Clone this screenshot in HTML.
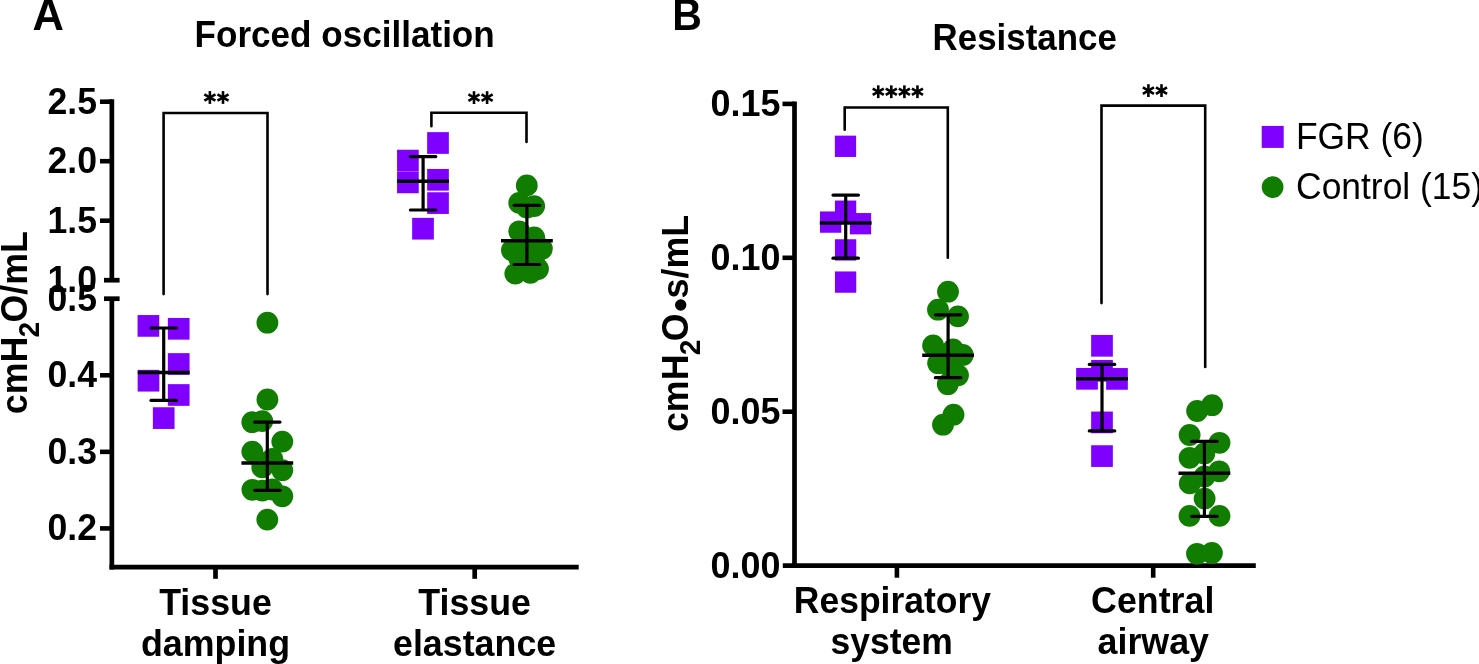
<!DOCTYPE html>
<html><head><meta charset="utf-8"><style>
html,body{margin:0;padding:0;background:#fff;width:1479px;height:664px;overflow:hidden}
svg{display:block;will-change:transform}
text{font-family:"Liberation Sans", sans-serif;fill:#000}
</style></head><body>
<svg width="1479" height="664" viewBox="0 0 1479 664">
<rect width="1479" height="664" fill="#fff"/>
<text transform="translate(32.61,29.80) scale(1,1.040)" font-size="43.5" font-weight="bold" text-anchor="start">A</text>
<text transform="translate(194.55,46.90) scale(1,1.070)" font-size="35.1" font-weight="bold" text-anchor="start">Forced oscillation</text>
<line x1="111.85" y1="99.30" x2="111.85" y2="280.20" stroke="#000" stroke-width="4.7" stroke-linecap="butt"/>
<line x1="104.00" y1="280.20" x2="119.60" y2="280.20" stroke="#000" stroke-width="4.7" stroke-linecap="butt"/>
<line x1="111.85" y1="298.70" x2="111.85" y2="569.50" stroke="#000" stroke-width="4.7" stroke-linecap="butt"/>
<line x1="104.00" y1="298.70" x2="119.60" y2="298.70" stroke="#000" stroke-width="4.7" stroke-linecap="butt"/>
<line x1="100.00" y1="101.70" x2="111.85" y2="101.70" stroke="#000" stroke-width="4.6" stroke-linecap="butt"/>
<text transform="translate(97.00,113.70) scale(1,1.020)" font-size="35.6" font-weight="bold" text-anchor="end">2.5</text>
<line x1="100.00" y1="161.20" x2="111.85" y2="161.20" stroke="#000" stroke-width="4.6" stroke-linecap="butt"/>
<text transform="translate(97.00,173.20) scale(1,1.020)" font-size="35.6" font-weight="bold" text-anchor="end">2.0</text>
<line x1="100.00" y1="220.70" x2="111.85" y2="220.70" stroke="#000" stroke-width="4.6" stroke-linecap="butt"/>
<text transform="translate(97.00,232.70) scale(1,1.020)" font-size="35.6" font-weight="bold" text-anchor="end">1.5</text>
<text transform="translate(97.00,292.20) scale(1,1.020)" font-size="35.6" font-weight="bold" text-anchor="end">1.0</text>
<text transform="translate(97.00,310.70) scale(1,1.020)" font-size="35.6" font-weight="bold" text-anchor="end">0.5</text>
<line x1="100.00" y1="375.27" x2="111.85" y2="375.27" stroke="#000" stroke-width="4.6" stroke-linecap="butt"/>
<text transform="translate(97.00,387.27) scale(1,1.020)" font-size="35.6" font-weight="bold" text-anchor="end">0.4</text>
<line x1="100.00" y1="451.84" x2="111.85" y2="451.84" stroke="#000" stroke-width="4.6" stroke-linecap="butt"/>
<text transform="translate(97.00,463.84) scale(1,1.020)" font-size="35.6" font-weight="bold" text-anchor="end">0.3</text>
<line x1="100.00" y1="528.41" x2="111.85" y2="528.41" stroke="#000" stroke-width="4.6" stroke-linecap="butt"/>
<text transform="translate(97.00,540.41) scale(1,1.020)" font-size="35.6" font-weight="bold" text-anchor="end">0.2</text>
<line x1="109.50" y1="567.10" x2="578.70" y2="567.10" stroke="#000" stroke-width="4.7" stroke-linecap="butt"/>
<line x1="215.50" y1="567.10" x2="215.50" y2="578.80" stroke="#000" stroke-width="4.7" stroke-linecap="butt"/>
<line x1="474.70" y1="567.10" x2="474.70" y2="578.80" stroke="#000" stroke-width="4.7" stroke-linecap="butt"/>
<text transform="translate(215.50,614.90) scale(1,1.045)" font-size="35.8" font-weight="bold" text-anchor="middle">Tissue</text>
<text transform="translate(215.50,655.90) scale(1,1.045)" font-size="35.8" font-weight="bold" text-anchor="middle">damping</text>
<text transform="translate(474.60,614.90) scale(1,1.045)" font-size="35.8" font-weight="bold" text-anchor="middle">Tissue</text>
<text transform="translate(474.60,655.90) scale(1,1.045)" font-size="35.8" font-weight="bold" text-anchor="middle">elastance</text>
<g transform="translate(27.00,414.20) rotate(-90) scale(1,1.045)" font-weight="bold">
<text x="0.00" y="0.00" font-size="35.8">cmH</text>
<text x="76.70" y="11.40" font-size="28">2</text>
<text x="91.70" y="0.00" font-size="35.8">O/mL</text>
</g>
<path d="M163.60,294.10 L163.60,113.00 L267.50,113.00 L267.50,294.10" fill="none" stroke="#000" stroke-width="2.6" stroke-linecap="round" stroke-linejoin="miter"/>
<g stroke="#000" stroke-width="2.6" stroke-linecap="butt">
<line x1="209.90" y1="91.10" x2="209.90" y2="103.90"/>
<line x1="204.36" y1="94.30" x2="215.44" y2="100.70"/>
<line x1="204.36" y1="100.70" x2="215.44" y2="94.30"/>
</g>
<g stroke="#000" stroke-width="2.6" stroke-linecap="butt">
<line x1="223.00" y1="91.10" x2="223.00" y2="103.90"/>
<line x1="217.46" y1="94.30" x2="228.54" y2="100.70"/>
<line x1="217.46" y1="100.70" x2="228.54" y2="94.30"/>
</g>
<path d="M431.40,126.20 L431.40,112.70 L526.50,112.70 L526.50,142.00" fill="none" stroke="#000" stroke-width="2.6" stroke-linecap="round" stroke-linejoin="miter"/>
<g stroke="#000" stroke-width="2.6" stroke-linecap="butt">
<line x1="474.00" y1="91.20" x2="474.00" y2="104.00"/>
<line x1="468.46" y1="94.40" x2="479.54" y2="100.80"/>
<line x1="468.46" y1="100.80" x2="479.54" y2="94.40"/>
</g>
<g stroke="#000" stroke-width="2.6" stroke-linecap="butt">
<line x1="487.10" y1="91.20" x2="487.10" y2="104.00"/>
<line x1="481.56" y1="94.40" x2="492.64" y2="100.80"/>
<line x1="481.56" y1="100.80" x2="492.64" y2="94.40"/>
</g>
<rect x="137.55" y="315.05" width="21.70" height="21.70" fill="#7f00ff"/>
<rect x="167.85" y="317.95" width="21.70" height="21.70" fill="#7f00ff"/>
<rect x="167.85" y="353.15" width="21.70" height="21.70" fill="#7f00ff"/>
<rect x="137.65" y="369.85" width="21.70" height="21.70" fill="#7f00ff"/>
<rect x="167.85" y="384.15" width="21.70" height="21.70" fill="#7f00ff"/>
<rect x="152.85" y="407.25" width="21.70" height="21.70" fill="#7f00ff"/>
<line x1="163.70" y1="328.00" x2="163.70" y2="400.40" stroke="#000" stroke-width="3.2" stroke-linecap="butt"/>
<line x1="151.00" y1="328.00" x2="176.40" y2="328.00" stroke="#000" stroke-width="3.2" stroke-linecap="round"/>
<line x1="151.00" y1="400.40" x2="176.40" y2="400.40" stroke="#000" stroke-width="3.2" stroke-linecap="round"/>
<line x1="137.80" y1="372.50" x2="189.60" y2="372.50" stroke="#000" stroke-width="3.5" stroke-linecap="butt"/>
<circle cx="267.40" cy="322.70" r="10.90" fill="#107c00"/>
<circle cx="267.40" cy="399.50" r="10.90" fill="#107c00"/>
<circle cx="252.30" cy="422.20" r="10.90" fill="#107c00"/>
<circle cx="262.30" cy="421.10" r="10.90" fill="#107c00"/>
<circle cx="282.30" cy="441.60" r="10.90" fill="#107c00"/>
<circle cx="252.30" cy="451.60" r="10.90" fill="#107c00"/>
<circle cx="272.30" cy="458.90" r="10.90" fill="#107c00"/>
<circle cx="262.30" cy="467.40" r="10.90" fill="#107c00"/>
<circle cx="282.30" cy="470.20" r="10.90" fill="#107c00"/>
<circle cx="262.30" cy="463.00" r="10.90" fill="#107c00"/>
<circle cx="252.40" cy="489.80" r="10.90" fill="#107c00"/>
<circle cx="262.30" cy="490.60" r="10.90" fill="#107c00"/>
<circle cx="272.30" cy="489.50" r="10.90" fill="#107c00"/>
<circle cx="282.30" cy="496.30" r="10.90" fill="#107c00"/>
<circle cx="267.30" cy="519.60" r="10.90" fill="#107c00"/>
<line x1="267.30" y1="422.10" x2="267.30" y2="490.30" stroke="#000" stroke-width="3.2" stroke-linecap="butt"/>
<line x1="254.60" y1="422.10" x2="280.00" y2="422.10" stroke="#000" stroke-width="3.2" stroke-linecap="round"/>
<line x1="254.60" y1="490.30" x2="280.00" y2="490.30" stroke="#000" stroke-width="3.2" stroke-linecap="round"/>
<line x1="241.40" y1="463.10" x2="293.20" y2="463.10" stroke="#000" stroke-width="3.5" stroke-linecap="butt"/>
<rect x="427.15" y="132.15" width="21.70" height="21.70" fill="#7f00ff"/>
<rect x="397.05" y="149.75" width="21.70" height="21.70" fill="#7f00ff"/>
<rect x="397.05" y="171.55" width="21.70" height="21.70" fill="#7f00ff"/>
<rect x="427.15" y="168.95" width="21.70" height="21.70" fill="#7f00ff"/>
<rect x="427.15" y="192.25" width="21.70" height="21.70" fill="#7f00ff"/>
<rect x="412.15" y="217.85" width="21.70" height="21.70" fill="#7f00ff"/>
<line x1="423.10" y1="156.60" x2="423.10" y2="210.00" stroke="#000" stroke-width="3.2" stroke-linecap="butt"/>
<line x1="410.40" y1="156.60" x2="435.80" y2="156.60" stroke="#000" stroke-width="3.2" stroke-linecap="round"/>
<line x1="410.40" y1="210.00" x2="435.80" y2="210.00" stroke="#000" stroke-width="3.2" stroke-linecap="round"/>
<line x1="397.20" y1="181.30" x2="449.00" y2="181.30" stroke="#000" stroke-width="3.5" stroke-linecap="butt"/>
<circle cx="526.80" cy="185.40" r="10.90" fill="#107c00"/>
<circle cx="519.20" cy="202.90" r="10.90" fill="#107c00"/>
<circle cx="534.20" cy="206.10" r="10.90" fill="#107c00"/>
<circle cx="526.90" cy="207.50" r="10.90" fill="#107c00"/>
<circle cx="519.20" cy="231.30" r="10.90" fill="#107c00"/>
<circle cx="534.20" cy="237.50" r="10.90" fill="#107c00"/>
<circle cx="526.90" cy="245.00" r="10.90" fill="#107c00"/>
<circle cx="511.90" cy="250.30" r="10.90" fill="#107c00"/>
<circle cx="541.90" cy="248.80" r="10.90" fill="#107c00"/>
<circle cx="526.90" cy="258.00" r="10.90" fill="#107c00"/>
<circle cx="515.30" cy="273.60" r="10.90" fill="#107c00"/>
<circle cx="530.40" cy="272.90" r="10.90" fill="#107c00"/>
<circle cx="538.00" cy="269.00" r="10.90" fill="#107c00"/>
<circle cx="522.00" cy="265.00" r="10.90" fill="#107c00"/>
<circle cx="534.00" cy="258.00" r="10.90" fill="#107c00"/>
<circle cx="519.00" cy="258.00" r="10.90" fill="#107c00"/>
<line x1="526.90" y1="205.30" x2="526.90" y2="264.50" stroke="#000" stroke-width="3.2" stroke-linecap="butt"/>
<line x1="514.20" y1="205.30" x2="539.60" y2="205.30" stroke="#000" stroke-width="3.2" stroke-linecap="round"/>
<line x1="514.20" y1="264.50" x2="539.60" y2="264.50" stroke="#000" stroke-width="3.2" stroke-linecap="round"/>
<line x1="501.00" y1="240.70" x2="552.80" y2="240.70" stroke="#000" stroke-width="3.5" stroke-linecap="butt"/>
<text transform="translate(672.35,29.80) scale(1,1.085)" font-size="41.0" font-weight="bold" text-anchor="start">B</text>
<text transform="translate(932.56,49.80) scale(1,1.047)" font-size="34.9" font-weight="bold" text-anchor="start">Resistance</text>
<line x1="794.50" y1="101.50" x2="794.50" y2="567.90" stroke="#000" stroke-width="4.7" stroke-linecap="butt"/>
<line x1="782.50" y1="103.90" x2="794.50" y2="103.90" stroke="#000" stroke-width="4.6" stroke-linecap="butt"/>
<text transform="translate(780.40,116.00) scale(1,1.020)" font-size="35.9" font-weight="bold" text-anchor="end">0.15</text>
<line x1="782.50" y1="257.80" x2="794.50" y2="257.80" stroke="#000" stroke-width="4.6" stroke-linecap="butt"/>
<text transform="translate(780.40,269.90) scale(1,1.020)" font-size="35.9" font-weight="bold" text-anchor="end">0.10</text>
<line x1="782.50" y1="411.70" x2="794.50" y2="411.70" stroke="#000" stroke-width="4.6" stroke-linecap="butt"/>
<text transform="translate(780.40,423.80) scale(1,1.020)" font-size="35.9" font-weight="bold" text-anchor="end">0.05</text>
<text transform="translate(780.40,577.70) scale(1,1.020)" font-size="35.9" font-weight="bold" text-anchor="end">0.00</text>
<line x1="782.80" y1="565.60" x2="1255.80" y2="565.60" stroke="#000" stroke-width="4.7" stroke-linecap="butt"/>
<line x1="896.90" y1="565.60" x2="896.90" y2="577.70" stroke="#000" stroke-width="4.6" stroke-linecap="butt"/>
<line x1="1153.20" y1="565.60" x2="1153.20" y2="577.70" stroke="#000" stroke-width="4.6" stroke-linecap="butt"/>
<text transform="translate(892.40,613.10) scale(1,1.045)" font-size="35.5" font-weight="bold" text-anchor="middle">Respiratory</text>
<text transform="translate(891.60,653.90) scale(1,1.045)" font-size="35.5" font-weight="bold" text-anchor="middle">system</text>
<text transform="translate(1152.70,613.10) scale(1,1.045)" font-size="35.8" font-weight="bold" text-anchor="middle">Central</text>
<text transform="translate(1153.30,654.20) scale(1,1.045)" font-size="35.8" font-weight="bold" text-anchor="middle">airway</text>
<g transform="translate(688.20,432.10) rotate(-90) scale(1,1.045)" font-weight="bold">
<text x="0.00" y="0.00" font-size="35.8">cmH</text>
<text x="76.80" y="11.60" font-size="28">2</text>
<text x="90.90" y="0.00" font-size="35.8">O</text>
<text x="133.70" y="0.00" font-size="35.8">s/mL</text>
</g>
<circle cx="680.7" cy="305.0" r="5.7" fill="#000"/>
<path d="M844.70,129.80 L844.70,107.50 L947.80,107.50 L947.80,257.80" fill="none" stroke="#000" stroke-width="2.6" stroke-linecap="round" stroke-linejoin="miter"/>
<g stroke="#000" stroke-width="2.6" stroke-linecap="butt">
<line x1="878.25" y1="85.35" x2="878.25" y2="98.15"/>
<line x1="872.71" y1="88.55" x2="883.79" y2="94.95"/>
<line x1="872.71" y1="94.95" x2="883.79" y2="88.55"/>
</g>
<g stroke="#000" stroke-width="2.6" stroke-linecap="butt">
<line x1="891.30" y1="85.35" x2="891.30" y2="98.15"/>
<line x1="885.76" y1="88.55" x2="896.84" y2="94.95"/>
<line x1="885.76" y1="94.95" x2="896.84" y2="88.55"/>
</g>
<g stroke="#000" stroke-width="2.6" stroke-linecap="butt">
<line x1="904.40" y1="85.35" x2="904.40" y2="98.15"/>
<line x1="898.86" y1="88.55" x2="909.94" y2="94.95"/>
<line x1="898.86" y1="94.95" x2="909.94" y2="88.55"/>
</g>
<g stroke="#000" stroke-width="2.6" stroke-linecap="butt">
<line x1="917.45" y1="85.35" x2="917.45" y2="98.15"/>
<line x1="911.91" y1="88.55" x2="922.99" y2="94.95"/>
<line x1="911.91" y1="94.95" x2="922.99" y2="88.55"/>
</g>
<path d="M1101.50,303.10 L1101.50,105.60 L1205.20,105.60 L1205.20,366.90" fill="none" stroke="#000" stroke-width="2.6" stroke-linecap="round" stroke-linejoin="miter"/>
<g stroke="#000" stroke-width="2.6" stroke-linecap="butt">
<line x1="1148.40" y1="84.20" x2="1148.40" y2="97.00"/>
<line x1="1142.86" y1="87.40" x2="1153.94" y2="93.80"/>
<line x1="1142.86" y1="93.80" x2="1153.94" y2="87.40"/>
</g>
<g stroke="#000" stroke-width="2.6" stroke-linecap="butt">
<line x1="1161.50" y1="84.20" x2="1161.50" y2="97.00"/>
<line x1="1155.96" y1="87.40" x2="1167.04" y2="93.80"/>
<line x1="1155.96" y1="93.80" x2="1167.04" y2="87.40"/>
</g>
<rect x="834.85" y="135.65" width="21.30" height="21.30" fill="#7f00ff"/>
<rect x="834.95" y="200.55" width="21.30" height="21.30" fill="#7f00ff"/>
<rect x="819.95" y="211.45" width="21.30" height="21.30" fill="#7f00ff"/>
<rect x="849.85" y="213.05" width="21.30" height="21.30" fill="#7f00ff"/>
<rect x="834.95" y="239.25" width="21.30" height="21.30" fill="#7f00ff"/>
<rect x="834.95" y="271.45" width="21.30" height="21.30" fill="#7f00ff"/>
<line x1="845.70" y1="195.10" x2="845.70" y2="258.20" stroke="#000" stroke-width="3.2" stroke-linecap="butt"/>
<line x1="833.00" y1="195.10" x2="858.40" y2="195.10" stroke="#000" stroke-width="3.2" stroke-linecap="round"/>
<line x1="833.00" y1="258.20" x2="858.40" y2="258.20" stroke="#000" stroke-width="3.2" stroke-linecap="round"/>
<line x1="819.80" y1="223.00" x2="871.60" y2="223.00" stroke="#000" stroke-width="3.5" stroke-linecap="butt"/>
<circle cx="948.00" cy="291.70" r="10.90" fill="#107c00"/>
<circle cx="938.00" cy="309.70" r="10.90" fill="#107c00"/>
<circle cx="958.00" cy="316.40" r="10.90" fill="#107c00"/>
<circle cx="933.10" cy="345.40" r="10.90" fill="#107c00"/>
<circle cx="953.00" cy="349.50" r="10.90" fill="#107c00"/>
<circle cx="962.80" cy="355.00" r="10.90" fill="#107c00"/>
<circle cx="943.00" cy="355.00" r="10.90" fill="#107c00"/>
<circle cx="938.10" cy="363.20" r="10.90" fill="#107c00"/>
<circle cx="958.00" cy="375.30" r="10.90" fill="#107c00"/>
<circle cx="947.80" cy="384.20" r="10.90" fill="#107c00"/>
<circle cx="948.00" cy="365.00" r="10.90" fill="#107c00"/>
<circle cx="953.50" cy="414.70" r="10.90" fill="#107c00"/>
<circle cx="943.00" cy="424.70" r="10.90" fill="#107c00"/>
<line x1="948.10" y1="314.80" x2="948.10" y2="377.70" stroke="#000" stroke-width="3.2" stroke-linecap="butt"/>
<line x1="935.40" y1="314.80" x2="960.80" y2="314.80" stroke="#000" stroke-width="3.2" stroke-linecap="round"/>
<line x1="935.40" y1="377.70" x2="960.80" y2="377.70" stroke="#000" stroke-width="3.2" stroke-linecap="round"/>
<line x1="922.20" y1="355.20" x2="974.00" y2="355.20" stroke="#000" stroke-width="3.5" stroke-linecap="butt"/>
<rect x="1091.15" y="334.95" width="21.70" height="21.70" fill="#7f00ff"/>
<rect x="1091.15" y="359.95" width="21.70" height="21.70" fill="#7f00ff"/>
<rect x="1076.15" y="367.95" width="21.70" height="21.70" fill="#7f00ff"/>
<rect x="1106.15" y="368.05" width="21.70" height="21.70" fill="#7f00ff"/>
<rect x="1091.15" y="411.55" width="21.70" height="21.70" fill="#7f00ff"/>
<rect x="1091.15" y="445.25" width="21.70" height="21.70" fill="#7f00ff"/>
<line x1="1102.00" y1="364.40" x2="1102.00" y2="430.90" stroke="#000" stroke-width="3.2" stroke-linecap="butt"/>
<line x1="1089.30" y1="364.40" x2="1114.70" y2="364.40" stroke="#000" stroke-width="3.2" stroke-linecap="round"/>
<line x1="1089.30" y1="430.90" x2="1114.70" y2="430.90" stroke="#000" stroke-width="3.2" stroke-linecap="round"/>
<line x1="1076.10" y1="378.80" x2="1127.90" y2="378.80" stroke="#000" stroke-width="3.5" stroke-linecap="butt"/>
<circle cx="1212.10" cy="405.20" r="10.90" fill="#107c00"/>
<circle cx="1197.10" cy="411.00" r="10.90" fill="#107c00"/>
<circle cx="1189.60" cy="435.00" r="10.90" fill="#107c00"/>
<circle cx="1219.50" cy="442.80" r="10.90" fill="#107c00"/>
<circle cx="1189.60" cy="457.80" r="10.90" fill="#107c00"/>
<circle cx="1204.30" cy="453.50" r="10.90" fill="#107c00"/>
<circle cx="1219.20" cy="471.30" r="10.90" fill="#107c00"/>
<circle cx="1204.50" cy="476.50" r="10.90" fill="#107c00"/>
<circle cx="1189.80" cy="483.40" r="10.90" fill="#107c00"/>
<circle cx="1204.60" cy="498.60" r="10.90" fill="#107c00"/>
<circle cx="1189.50" cy="515.90" r="10.90" fill="#107c00"/>
<circle cx="1219.50" cy="515.90" r="10.90" fill="#107c00"/>
<circle cx="1197.00" cy="553.80" r="10.90" fill="#107c00"/>
<circle cx="1211.90" cy="553.00" r="10.90" fill="#107c00"/>
<line x1="1204.40" y1="441.40" x2="1204.40" y2="516.30" stroke="#000" stroke-width="3.2" stroke-linecap="butt"/>
<line x1="1191.70" y1="441.40" x2="1217.10" y2="441.40" stroke="#000" stroke-width="3.2" stroke-linecap="round"/>
<line x1="1191.70" y1="516.30" x2="1217.10" y2="516.30" stroke="#000" stroke-width="3.2" stroke-linecap="round"/>
<line x1="1178.50" y1="473.30" x2="1230.30" y2="473.30" stroke="#000" stroke-width="3.5" stroke-linecap="butt"/>
<rect x="1261.70" y="125.90" width="22.00" height="22.00" fill="#7f00ff"/>
<circle cx="1272.60" cy="187.10" r="10.90" fill="#107c00"/>
<text transform="translate(1295.90,148.80) scale(1,1.040)" font-size="35.4" font-weight="normal" text-anchor="start">FGR (6)</text>
<text transform="translate(1296.09,199.10) scale(1,1.040)" font-size="35.4" font-weight="normal" text-anchor="start">Control (15)</text>
</svg>
</body></html>
